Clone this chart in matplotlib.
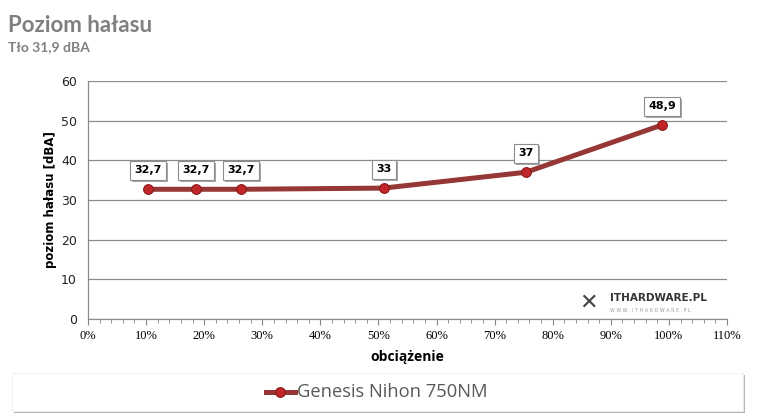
import matplotlib
matplotlib.use("Agg")
import matplotlib.pyplot as plt
from matplotlib.patches import Rectangle
import matplotlib.patheffects as pe
from matplotlib.lines import Line2D

load_pct = [10.3, 18.6, 26.3, 50.9, 75.4, 98.8]
noise_dba = [32.7, 32.7, 32.7, 33.0, 37.0, 48.9]
value_labels = ["32,7", "32,7", "32,7", "33", "37", "48,9"]
series_name = "Genesis Nihon 750NM"
x_ticks = list(range(0, 111, 10))
y_ticks = list(range(0, 61, 10))

W, H = 757, 417
fig = plt.figure(figsize=(W / 100, H / 100), dpi=100)
fig.patch.set_facecolor("white")

ax = fig.add_axes([88 / W, (H - 319) / H, 639 / W, 238 / H])
ax.set_xlim(0, 110)
ax.set_ylim(0, 60)

LINE_C = "#953735"
ax.plot(load_pct, noise_dba, color=LINE_C, lw=3.6, solid_capstyle="round", zorder=3)
ax.plot(load_pct, noise_dba, ls="none", marker="o", ms=7, mfc="#c0262a",
        mec="#8b1a1a", mew=0.8, zorder=4)

shadow = [pe.withSimplePatchShadow(offset=(1.5, -1.5), shadow_rgbFace="#808080", alpha=0.7)]
for x, y, t in zip(load_pct, noise_dba, value_labels):
    ann = ax.annotate(t, (x, y), xytext=(0, 10), textcoords="offset points",
                      ha="center", va="bottom", fontsize=8, fontweight="bold",
                      family="DejaVu Sans", color="black", zorder=6,
                      bbox=dict(boxstyle="square,pad=0.4", fc="white", ec="#8c8c8c", lw=0.8))
    ann.get_bbox_patch().set_path_effects(shadow)

ax.set_xticks(x_ticks)
ax.set_xticklabels([f"{v}%" for v in x_ticks], family="Liberation Serif", fontsize=9)
ax.set_xticks(list(range(0, 111, 2)), minor=True)
ax.set_yticks(y_ticks)
ax.set_yticklabels([str(v) for v in y_ticks], family="DejaVu Sans", fontsize=9, color="#222222")
ax.tick_params(axis="x", which="major", length=4, color="#888888", pad=4)
ax.tick_params(axis="x", which="minor", length=3, color="#888888")
ax.tick_params(axis="y", length=0, pad=8)
ax.grid(axis="y", color="#8c8c8c", lw=0.9)
ax.set_axisbelow(True)
for s in ["top", "right"]:
    ax.spines[s].set_visible(False)
for s in ["left", "bottom"]:
    ax.spines[s].set_color("#8c8c8c")
    ax.spines[s].set_linewidth(0.9)

ax.set_ylabel("poziom hałasu [dBA]", fontsize=8.5, fontweight="bold", family="DejaVu Sans", labelpad=3)
ax.set_xlabel("obciążenie", fontsize=10, fontweight="bold", family="Open Sans", labelpad=6)

# Title
fig.text(8 / W, 1 - 25 / H, "Poziom hałasu", fontsize=16, fontweight="bold",
         family="Lato", color="#7f7f7f", va="center", ha="left")
fig.text(8 / W, 1 - 47 / H, "Tło 31,9 dBA", fontsize=10, fontweight="bold",
         family="Lato", color="#7f7f7f", va="center", ha="left")

# Watermark
fig.text(610 / W, 1 - 298 / H, "ITHARDWARE.PL", fontsize=7.5, fontweight="bold",
         family="DejaVu Sans", color="#333333", va="center", ha="left")
fig.text(610 / W, 1 - 310 / H, "W W W . I T H A R D W A R E . P L", fontsize=3.5,
         family="DejaVu Sans", color="#999999", va="center", ha="left")
fig.text(588 / W, 1 - 303 / H, "✕", fontsize=16, fontweight="bold",
         family="DejaVu Sans", color="#444444", va="center", ha="center")

# Legend box with shadow
fig.patches.append(Rectangle((14 / W, 1 - 413 / H), 731 / W, 38 / H,
                             transform=fig.transFigure, fc="#b5b5b5", ec="none", zorder=1))
fig.patches.append(Rectangle((12 / W, 1 - 411 / H), 731 / W, 38 / H,
                             transform=fig.transFigure, fc="white", ec="#eeeeee", lw=0.6, zorder=2))
ly = 1 - 392 / H
fig.lines.append(Line2D([266 / W, 295 / W], [ly, ly], transform=fig.transFigure,
                        color=LINE_C, lw=3.6, zorder=3))
fig.lines.append(Line2D([280 / W], [ly], transform=fig.transFigure, marker="o", ms=7,
                        mfc="#c0262a", mec="#8b1a1a", mew=0.8, zorder=4))
fig.text(297 / W, ly, series_name, fontsize=13.2, family="Open Sans", color="#595959",
         va="center", ha="left", zorder=5)

fig.savefig("out.png", dpi=100, facecolor="white")
